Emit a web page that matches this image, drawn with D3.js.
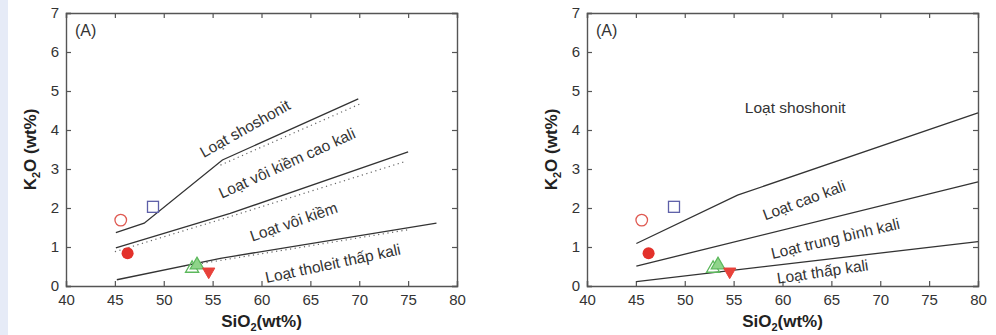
<!DOCTYPE html>
<html lang="vi">
<head>
<meta charset="UTF-8" />
<style>
    body { margin: 0; background: #fff; }
    svg { display: block; font-family: "Liberation Sans", Arial, sans-serif; }
</style>
</head>
<body>
<svg width="996" height="335"></svg>
<script src="https://d3js.org/d3.v7.min.js"></script>
<script>
    // sample points (same in both panels)
    var sampleSiO2 = [45.6, 48.9, 46.3, 52.9, 53.4, 54.6];
    var sampleK2O = [1.69, 2.03, 0.84, 0.45, 0.54, 0.37];
    var sampleKind = ["openCircle", "openSquare", "dot", "openTri", "fillTri", "downTri"];

    var xTicks = [40, 45, 50, 55, 60, 65, 70, 75, 80];
    var yTicks = [0, 1, 2, 3, 4, 5, 6, 7];

    // left panel boundaries
    var leftSolid = [
        [[45.1, 1.37], [48, 1.61], [56, 3.23], [69.9, 4.8]],
        [[45.1, 0.98], [56.8, 1.86], [75, 3.44]],
        [[45.2, 0.16], [55.8, 0.71], [77.9, 1.61]]
    ];
    var leftDotted = [
        [[55.8, 3.1], [70.1, 4.67]],
        [[45.0, 0.88], [56.8, 1.78], [74.8, 3.2]],
        [[52.0, 0.5], [75.2, 1.45]]
    ];
    var leftLabels = ["Loạt shoshonit", "Loạt vôi kiềm cao kali", "Loạt vôi kiềm", "Loạt tholeit thấp kali"];
    var leftLabelAt = [[58.3, 4.04], [62.6, 3.15], [63.3, 1.65], [67.3, 0.58]];
    var leftLabelAngle = [-29.5, -24.5, -19, -12];

    // right panel boundaries
    var rightSolid = [
        [[45.05, 1.09], [55.4, 2.33], [80, 4.44]],
        [[45.05, 0.51], [80, 2.67]],
        [[45.05, 0.11], [80, 1.14]]
    ];
    var rightLabels = ["Loạt shoshonit", "Loạt cao kali", "Loạt trung bình kali", "Loạt thấp kali"];
    var rightLabelAt = [[61.3, 4.57], [62.2, 2.2], [65.4, 1.22], [64.1, 0.37]];
    var rightLabelAngle = [0, -20.5, -13.3, -8.4];

    var svg = d3.select("svg");

    svg.append("rect").attr("x", 0).attr("y", 0).attr("width", 8).attr("height", 335)
        .attr("fill", "#e6ebf7");

    function drawPanel(left, solid, dotted, labels, labelAt, labelAngle) {
        var w = 391, h = 273, top = 13;
        var g = svg.append("g").attr("transform", "translate(" + left + "," + top + ")");
        var x = d3.scaleLinear().domain([40, 80]).range([0, w]);
        var y = d3.scaleLinear().domain([0, 7]).range([h, 0]);

        g.append("g").attr("transform", "translate(0," + h + ")")
            .call(d3.axisBottom(x).tickValues(xTicks).tickSize(-5).tickPadding(8).tickFormat(d3.format("d")));
        g.append("g")
            .call(d3.axisLeft(y).tickValues(yTicks).tickSize(-5).tickPadding(7).tickFormat(d3.format("d")));
        g.append("g").call(d3.axisTop(x).tickValues(xTicks).tickSize(-5).tickFormat(""));
        g.append("g").attr("transform", "translate(" + w + ",0)")
            .call(d3.axisRight(y).tickValues(yTicks).tickSize(-5).tickFormat(""));

        g.selectAll(".domain").attr("stroke", "#555").attr("stroke-width", 1.4);
        g.selectAll(".tick line").attr("stroke", "#555").attr("stroke-width", 1.2);
        g.selectAll(".tick text").attr("fill", "#333").attr("font-size", 15)
            .attr("font-family", "Liberation Sans, Arial, sans-serif");

        var line = d3.line().x(function (d) { return x(d[0]); }).y(function (d) { return y(d[1]); });

        g.selectAll(".solid").data(solid).enter().append("path")
            .attr("d", line).attr("fill", "none").attr("stroke", "#333").attr("stroke-width", 1.3);
        g.selectAll(".dotted").data(dotted).enter().append("path")
            .attr("d", line).attr("fill", "none").attr("stroke", "#666").attr("stroke-width", 1.2)
            .attr("stroke-dasharray", "1.2,3.5");

        labels.forEach(function (t, i) {
            g.append("text")
                .attr("transform", "translate(" + x(labelAt[i][0]) + "," + y(labelAt[i][1]) + ") rotate(" + labelAngle[i] + ")")
                .attr("text-anchor", "middle").attr("dy", "0.35em")
                .attr("font-size", 15.5).attr("fill", "#333").text(t);
        });

        g.append("text").attr("x", 9).attr("y", 23).attr("font-size", 16).attr("fill", "#333").text("(A)");

        // markers
        sampleKind.forEach(function (k, i) {
            var px = x(sampleSiO2[i]), py = y(sampleK2O[i]);
            var m;
            if (k == "openCircle") {
                m = g.append("circle").attr("r", 5.8).attr("fill", "none").attr("stroke", "#df5a52").attr("stroke-width", 1.3);
            } else if (k == "dot") {
                m = g.append("circle").attr("r", 6).attr("fill", "#e3312b");
            } else if (k == "openSquare") {
                m = g.append("rect").attr("x", -5.5).attr("y", -5.5).attr("width", 11).attr("height", 11)
                    .attr("fill", "none").attr("stroke", "#5d5fa8").attr("stroke-width", 1.3);
            } else if (k == "openTri") {
                m = g.append("path").attr("d", d3.symbol(d3.symbolTriangle, 75)())
                    .attr("fill", "none").attr("stroke", "#5cb85c").attr("stroke-width", 1.3);
            } else if (k == "fillTri") {
                m = g.append("path").attr("d", d3.symbol(d3.symbolTriangle, 80)())
                    .attr("fill", "#8fd48a").attr("stroke", "#5cb85c").attr("stroke-width", 1.2);
            } else {
                m = g.append("path").attr("d", d3.symbol(d3.symbolTriangle, 65)())
                    .attr("fill", "#e8413a").attr("stroke", "#e8413a");
                m.attr("transform", "translate(" + px + "," + py + ") rotate(180)");
                return;
            }
            if (m.node().tagName == "circle") m.attr("cx", px).attr("cy", py);
            else m.attr("transform", "translate(" + px + "," + py + ")");
        });

        // axis titles
        var xt = g.append("text").attr("x", w / 2).attr("y", h + 41).attr("text-anchor", "middle")
            .attr("font-size", 17).attr("font-weight", "bold").attr("fill", "#222");
        xt.append("tspan").text("SiO");
        xt.append("tspan").attr("font-size", 11).attr("dy", 4).text("2");
        xt.append("tspan").attr("dy", -4).text("(wt%)");

        var yt = g.append("text").attr("transform", "translate(-30," + h / 2 + ") rotate(-90)")
            .attr("text-anchor", "middle").attr("font-size", 17).attr("font-weight", "bold").attr("fill", "#222");
        yt.append("tspan").text("K");
        yt.append("tspan").attr("font-size", 11).attr("dy", 4).text("2");
        yt.append("tspan").attr("dy", -4).text("O (wt%)");
    }

    drawPanel(66, leftSolid, leftDotted, leftLabels, leftLabelAt, leftLabelAngle);
    drawPanel(587, rightSolid, [], rightLabels, rightLabelAt, rightLabelAngle);
</script>
</body>
</html>
